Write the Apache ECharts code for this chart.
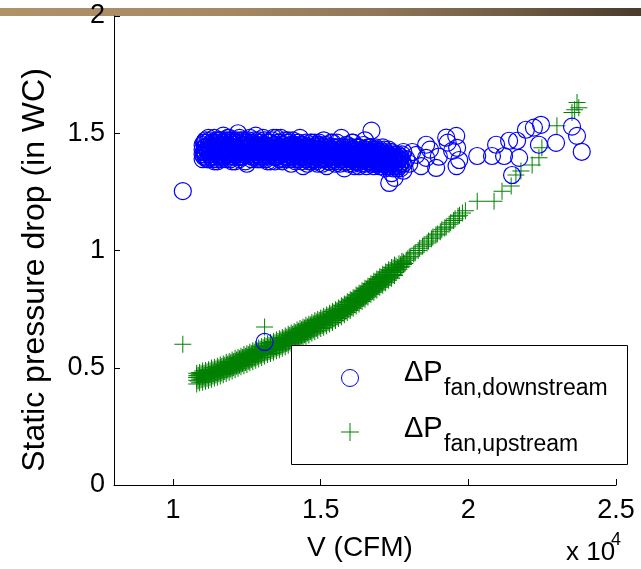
<!DOCTYPE html>
<html>
<head>
<meta charset="utf-8">
<script src="https://cdn.jsdelivr.net/npm/echarts@6/dist/echarts.min.js"></script>
<style>
html,body{margin:0;padding:0;background:#fff;}
#chart{width:641px;height:569px;}
</style>
</head>
<body>
<div id="chart"></div>
<script>
// Axis tick values (x in units of 10^4 CFM)
const xTicks = [1, 1.5, 2, 2.5];
const yTicks = [0, 0.5, 1, 1.5, 2];

// ΔP fan, downstream — dense cluster read column by column: [V, [ΔP values]]
const downstreamCols = [
  [1.10,[1.43,1.45,1.41,1.39]],[1.11,[1.44,1.47,1.42,1.40]],[1.12,[1.42,1.39,1.45,1.48]],
  [1.13,[1.43,1.40,1.46,1.44]],[1.14,[1.41,1.48,1.44,1.38]],[1.15,[1.43,1.38,1.45,1.47]],
  [1.16,[1.42,1.47,1.40,1.44]],[1.17,[1.44,1.41,1.49,1.46]],[1.18,[1.43,1.46,1.39,1.41]],
  [1.19,[1.42,1.45,1.48,1.40]],[1.20,[1.41,1.47,1.44,1.38]],[1.21,[1.43,1.38,1.46,1.45]],
  [1.22,[1.46,1.42,1.50,1.40]],[1.23,[1.44,1.40,1.47,1.42]],[1.24,[1.43,1.47,1.41,1.45]],
  [1.25,[1.42,1.45,1.37,1.44]],[1.26,[1.44,1.41,1.48,1.46]],[1.27,[1.46,1.43,1.40,1.42]],
  [1.28,[1.40,1.49,1.44,1.43]],[1.29,[1.44,1.42,1.47,1.39]],[1.30,[1.45,1.39,1.42,1.43]],
  [1.31,[1.43,1.47,1.41,1.45]],[1.32,[1.41,1.44,1.38,1.46]],[1.33,[1.46,1.38,1.43,1.42]],
  [1.34,[1.42,1.45,1.40,1.48]],[1.35,[1.40,1.48,1.44,1.42]],[1.36,[1.43,1.41,1.46,1.39]],
  [1.37,[1.45,1.38,1.42,1.43]],[1.38,[1.42,1.44,1.47,1.40]],[1.39,[1.40,1.47,1.43,1.41]],
  [1.40,[1.43,1.37,1.45,1.41]],[1.41,[1.41,1.45,1.39,1.43]],[1.42,[1.42,1.39,1.46,1.44]],
  [1.43,[1.44,1.48,1.41,1.40]],[1.44,[1.41,1.36,1.43,1.45]],[1.45,[1.43,1.46,1.39,1.42]],
  [1.46,[1.40,1.42,1.44,1.38]],[1.47,[1.44,1.38,1.41,1.46]],[1.48,[1.41,1.46,1.43,1.39]],
  [1.49,[1.43,1.37,1.40,1.45]],[1.50,[1.42,1.45,1.39,1.41]],[1.51,[1.40,1.47,1.43,1.42]],
  [1.52,[1.43,1.36,1.41,1.45]],[1.53,[1.41,1.44,1.38,1.42]],[1.54,[1.39,1.46,1.42,1.40]],
  [1.55,[1.42,1.37,1.44,1.41]],[1.56,[1.44,1.40,1.42,1.38]],[1.57,[1.43,1.48,1.40,1.41]],
  [1.58,[1.41,1.35,1.43,1.39]],[1.59,[1.42,1.45,1.38,1.40]],[1.60,[1.39,1.43,1.41,1.44]],
  [1.61,[1.41,1.46,1.37,1.42]],[1.62,[1.38,1.42,1.40,1.44]],[1.63,[1.44,1.36,1.41,1.39]],
  [1.64,[1.40,1.43,1.38,1.42]],[1.65,[1.41,1.47,1.39,1.37]],[1.66,[1.39,1.42,1.40,1.44]],
  [1.67,[1.44,1.37,1.41,1.39]],[1.68,[1.40,1.43,1.36,1.42]],[1.69,[1.38,1.41,1.43,1.39]],
  [1.70,[1.42,1.36,1.40,1.38]],[1.71,[1.39,1.44,1.37,1.41]],[1.72,[1.40,1.35,1.42,1.38]],
  [1.73,[1.41,1.38,1.36,1.43]],[1.74,[1.42,1.33,1.39,1.37]],[1.75,[1.39,1.36,1.41]],
  [1.76,[1.41,1.38,1.35]],[1.77,[1.35,1.40,1.37]],[1.78,[1.37,1.42,1.34]]
];
// ΔP fan, downstream — further readings between the columns above
const downstreamCols2 = [
  [1.105,[1.42,1.46,1.40]],[1.115,[1.43,1.39,1.46]],[1.125,[1.44,1.41,1.47]],[1.135,[1.42,1.45,1.39]],
  [1.145,[1.43,1.46,1.40]],[1.155,[1.41,1.44,1.47]],[1.165,[1.43,1.39,1.45]],[1.175,[1.42,1.47,1.40]],
  [1.185,[1.44,1.41,1.48]],[1.195,[1.43,1.39,1.46]],[1.205,[1.42,1.45,1.40]],[1.215,[1.44,1.41,1.47]],
  [1.225,[1.43,1.48,1.39]],[1.235,[1.42,1.45,1.40]],[1.245,[1.44,1.38,1.46]],[1.255,[1.43,1.41,1.47]],
  [1.265,[1.42,1.45,1.39]],[1.275,[1.44,1.47,1.41]],[1.285,[1.42,1.39,1.45]],[1.295,[1.43,1.46,1.40]],
  [1.305,[1.41,1.44,1.48]],[1.315,[1.43,1.39,1.45]],[1.325,[1.42,1.46,1.40]],[1.335,[1.44,1.41,1.47]],
  [1.345,[1.43,1.38,1.45]],[1.355,[1.42,1.46,1.40]],[1.365,[1.44,1.41,1.48]],[1.375,[1.43,1.39,1.45]],
  [1.385,[1.41,1.46,1.43]],[1.395,[1.42,1.39,1.45]],[1.405,[1.44,1.40,1.47]],[1.415,[1.42,1.38,1.45]],
  [1.425,[1.43,1.40,1.46]],[1.435,[1.42,1.45,1.38]],[1.445,[1.44,1.40,1.42]],[1.455,[1.41,1.44,1.37]],
  [1.465,[1.43,1.39,1.46]],[1.475,[1.42,1.40,1.45]],[1.485,[1.40,1.44,1.38]],[1.495,[1.42,1.46,1.39]],
  [1.505,[1.41,1.43,1.37]],[1.515,[1.42,1.39,1.45]],[1.525,[1.40,1.44,1.38]],[1.535,[1.43,1.40,1.46]],
  [1.545,[1.41,1.38,1.44]],[1.555,[1.40,1.43,1.46]],[1.565,[1.42,1.39,1.37]],[1.575,[1.40,1.44,1.42]],
  [1.585,[1.41,1.38,1.45]],[1.595,[1.43,1.40,1.37]],[1.605,[1.40,1.42,1.46]],[1.615,[1.43,1.39,1.36]],
  [1.625,[1.41,1.44,1.38]],[1.635,[1.40,1.42,1.37]],[1.645,[1.42,1.39,1.45]],[1.655,[1.40,1.43,1.36]],
  [1.665,[1.41,1.38,1.44]],[1.675,[1.39,1.42,1.37]],[1.685,[1.41,1.38,1.44]],[1.695,[1.40,1.37,1.42]],
  [1.705,[1.39,1.41,1.36]],[1.715,[1.40,1.37,1.43]],[1.725,[1.39,1.41,1.36]],[1.735,[1.40,1.37,1.42]],
  [1.745,[1.38,1.40,1.35]],[1.755,[1.40,1.37]],[1.765,[1.39,1.36]],[1.775,[1.38,1.41]]
];
// ΔP fan, downstream — third pass of readings in the core of the cluster
const downstreamCols3 = [
  [1.1075,[1.41,1.44,1.46,1.42]],[1.1275,[1.43,1.40,1.45,1.42]],[1.1475,[1.44,1.42,1.39,1.46]],
  [1.1675,[1.42,1.45,1.43,1.40]],[1.1875,[1.41,1.44,1.47,1.43]],[1.2075,[1.43,1.41,1.46,1.44]],
  [1.2275,[1.42,1.44,1.40,1.45]],[1.2475,[1.44,1.42,1.46,1.41]],[1.2675,[1.43,1.40,1.45,1.42]],
  [1.2875,[1.41,1.44,1.46,1.43]],[1.3075,[1.42,1.45,1.40,1.44]],[1.3275,[1.44,1.41,1.43,1.46]],
  [1.3475,[1.43,1.40,1.45,1.41]],[1.3675,[1.42,1.44,1.39,1.45]],[1.3875,[1.43,1.41,1.46,1.42]],
  [1.4075,[1.42,1.44,1.40,1.43]],[1.4275,[1.41,1.43,1.45,1.39]],[1.4475,[1.43,1.40,1.42,1.44]],
  [1.4675,[1.42,1.44,1.39,1.41]],[1.4875,[1.41,1.43,1.40,1.45]],[1.5075,[1.42,1.39,1.44,1.41]],
  [1.5275,[1.40,1.43,1.41,1.38]],[1.5475,[1.42,1.40,1.44,1.39]],[1.5675,[1.41,1.43,1.39,1.40]],
  [1.5875,[1.40,1.42,1.38,1.44]],[1.6075,[1.41,1.39,1.43,1.40]],[1.6275,[1.40,1.42,1.38,1.41]],
  [1.6475,[1.39,1.41,1.43,1.40]],[1.6675,[1.40,1.38,1.42,1.41]],[1.6875,[1.39,1.41,1.37,1.40]],
  [1.7075,[1.40,1.38,1.42,1.39]],[1.7275,[1.39,1.41,1.37,1.40]],[1.7475,[1.38,1.40,1.36,1.39]],
  [1.7675,[1.39,1.37,1.40]]
];
// ΔP fan, downstream — sparse / isolated points [V, ΔP]
const downstreamSparse = [
  [1.033,1.253],[1.31,0.61],[1.672,1.511],[1.732,1.288],[1.75,1.31],
  [1.79,1.39],[1.80,1.37],[1.81,1.42],[1.824,1.408],[1.84,1.36],[1.857,1.451],[1.857,1.395],
  [1.87,1.43],[1.891,1.352],[1.90,1.40],[1.925,1.481],[1.93,1.46],[1.945,1.425],[1.959,1.489],
  [1.96,1.36],[1.962,1.438],[1.969,1.386],[2.03,1.403],[2.08,1.403],[2.094,1.451],[2.121,1.403],
  [2.138,1.468],[2.148,1.322],[2.165,1.468],[2.172,1.395],[2.195,1.515],[2.222,1.524],
  [2.239,1.451],[2.246,1.536],[2.297,1.459],[2.351,1.528],[2.368,1.489],[2.384,1.421]
];

// ΔP fan, upstream — dense band read column by column: [V, [ΔP values]]
const upstreamCols = [
  [1.08,[.447,.458,.466]],[1.09,[.452,.461,.47]],[1.10,[.455,.466,.473]],[1.11,[.457,.468,.478]],
  [1.12,[.462,.474,.481]],[1.13,[.466,.477,.487]],[1.14,[.47,.483,.49]],[1.15,[.476,.486,.495]],
  [1.16,[.479,.492,.499]],[1.17,[.485,.496,.505]],[1.18,[.49,.502,.51]],[1.19,[.496,.507,.515]],
  [1.20,[.5,.513,.521]],[1.21,[.507,.518,.527]],[1.22,[.511,.524,.532]],[1.23,[.518,.529,.538]],
  [1.24,[.522,.535,.544]],[1.25,[.529,.54,.549]],[1.26,[.533,.546,.555]],[1.27,[.54,.552,.561]],
  [1.28,[.545,.558,.567]],[1.29,[.552,.564,.572]],[1.30,[.557,.57,.578]],[1.31,[.564,.576,.584]],
  [1.32,[.569,.582,.59]],[1.33,[.576,.587,.595]],[1.34,[.58,.592,.601]],[1.35,[.586,.598,.606]],
  [1.36,[.591,.603,.612]],[1.37,[.597,.609,.618]],[1.38,[.603,.615,.624]],[1.39,[.609,.622,.63]],
  [1.40,[.616,.628,.636]],[1.41,[.621,.634,.643]],[1.42,[.628,.64,.649]],[1.43,[.634,.647,.655]],
  [1.44,[.641,.653,.662]],[1.45,[.647,.66,.668]],[1.46,[.654,.666,.675]],[1.47,[.66,.673,.681]],
  [1.48,[.667,.679,.688]],[1.49,[.673,.686,.694]],[1.50,[.68,.692,.701]],[1.51,[.686,.699,.707]],
  [1.52,[.693,.705,.714]],[1.53,[.699,.712,.721]],[1.54,[.707,.719,.728]],[1.55,[.714,.727,.736]],
  [1.56,[.722,.735,.744]],[1.57,[.73,.743,.752]],[1.58,[.739,.752,.761]],[1.59,[.748,.761,.77]],
  [1.60,[.757,.77,.779]],[1.61,[.766,.779,.788]],[1.62,[.776,.789,.797]],[1.63,[.785,.798,.807]],
  [1.64,[.795,.808,.817]],[1.65,[.805,.818,.827]],[1.66,[.815,.828,.837]],[1.67,[.825,.838,.847]],
  [1.68,[.835,.848,.857]],[1.69,[.845,.858,.867]],[1.70,[.855,.868,.877]],[1.71,[.865,.878,.887]],
  [1.72,[.875,.888,.897]],[1.73,[.886,.898,.906]],[1.74,[.896,.908,.916]],[1.75,[.906,.918,.925]],
  [1.76,[.917,.928]],[1.77,[.929,.939]],[1.78,[.94,.95]]
];
// ΔP fan, upstream — further readings between the columns above
const upstreamCols2 = [
  [1.085,[.444,.468]],[1.095,[.449,.474]],[1.105,[.452,.477]],[1.115,[.455,.482]],[1.125,[.46,.486]],
  [1.135,[.465,.49]],[1.145,[.469,.495]],[1.155,[.474,.5]],[1.165,[.478,.505]],[1.175,[.484,.511]],
  [1.185,[.49,.516]],[1.195,[.495,.521]],[1.205,[.5,.527]],[1.215,[.506,.533]],[1.225,[.511,.538]],
  [1.235,[.517,.544]],[1.245,[.522,.549]],[1.255,[.528,.555]],[1.265,[.534,.561]],[1.275,[.54,.567]],
  [1.285,[.546,.573]],[1.295,[.552,.579]],[1.305,[.558,.585]],[1.315,[.564,.591]],[1.325,[.569,.596]],
  [1.335,[.574,.601]],[1.345,[.58,.607]],[1.355,[.585,.612]],[1.365,[.591,.618]],[1.375,[.597,.624]],
  [1.385,[.603,.63]],[1.395,[.61,.637]],[1.405,[.616,.643]],[1.415,[.622,.649]],[1.425,[.628,.656]],
  [1.435,[.635,.662]],[1.445,[.641,.669]],[1.455,[.648,.675]],[1.465,[.654,.682]],[1.475,[.661,.688]],
  [1.485,[.667,.695]],[1.495,[.674,.701]],[1.505,[.68,.708]],[1.515,[.687,.714]],[1.525,[.693,.721]],
  [1.535,[.7,.728]],[1.545,[.708,.735]],[1.555,[.716,.743]],[1.565,[.724,.751]],[1.575,[.732,.76]],
  [1.585,[.741,.769]],[1.595,[.75,.778]],[1.605,[.759,.787]],[1.615,[.769,.796]],[1.625,[.778,.806]],
  [1.635,[.788,.815]],[1.645,[.798,.825]],[1.655,[.808,.835]],[1.665,[.818,.845]],[1.675,[.828,.855]],
  [1.685,[.838,.865]],[1.695,[.848,.875]],[1.705,[.858,.885]],[1.715,[.868,.895]],[1.725,[.878,.905]],
  [1.735,[.888,.915]],[1.745,[.898,.925]],[1.755,[.908,.934]],[1.765,[.92,.944]],[1.775,[.931,.954]]
];
// ΔP fan, upstream — readings at the lower and upper edges of the band
const upstreamEdges = [
  [1.08,[.431,.477]],[1.09,[.436,.48]],[1.10,[.438,.486]],[1.11,[.442,.488]],[1.12,[.447,.492]],
  [1.13,[.451,.499]],[1.14,[.456,.502]],[1.15,[.459,.506]],[1.16,[.465,.512]],[1.17,[.47,.516]],
  [1.18,[.476,.523]],[1.19,[.481,.527]],[1.20,[.486,.533]],[1.21,[.492,.54]],[1.22,[.498,.544]],
  [1.23,[.504,.549]],[1.24,[.509,.556]],[1.25,[.514,.56]],[1.26,[.521,.566]],[1.27,[.526,.573]],
  [1.28,[.532,.578]],[1.29,[.537,.584]],[1.30,[.544,.591]],[1.31,[.55,.596]],[1.32,[.557,.602]],
  [1.33,[.561,.608]],[1.34,[.566,.612]],[1.35,[.573,.618]],[1.36,[.577,.624]],[1.37,[.583,.629]],
  [1.38,[.59,.635]],[1.39,[.596,.643]],[1.40,[.602,.648]],[1.41,[.609,.654]],[1.42,[.614,.661]],
  [1.43,[.621,.667]],[1.44,[.628,.673]],[1.45,[.634,.681]],[1.46,[.64,.686]],[1.47,[.648,.693]],
  [1.48,[.653,.7]],[1.49,[.66,.706]],[1.50,[.667,.712]],[1.51,[.673,.72]],[1.52,[.679,.725]],
  [1.53,[.687,.732]],[1.54,[.693,.74]],[1.55,[.701,.747]],[1.56,[.71,.755]],[1.57,[.717,.764]],
  [1.58,[.726,.772]],[1.59,[.736,.781]],[1.60,[.744,.79]],[1.61,[.754,.799]],[1.62,[.763,.81]],
  [1.63,[.772,.818]],[1.64,[.783,.828]],[1.65,[.792,.839]],[1.66,[.802,.848]],[1.67,[.813,.858]],
  [1.68,[.822,.869]],[1.69,[.832,.878]],[1.70,[.843,.888]],[1.71,[.852,.899]],[1.72,[.862,.908]],
  [1.73,[.873,.918]],[1.74,[.882,.928]],[1.75,[.893,.938]]
];
// ΔP fan, upstream — sparse / isolated points [V, ΔP]
const upstreamSparse = [
  [1.033,0.60],[1.31,0.674],
  [1.785,.945],[1.79,.958],[1.795,.965],[1.80,.972],[1.805,.975],[1.815,.985],[1.82,.99],[1.83,1.0],
  [1.835,1.01],[1.845,1.018],[1.85,1.025],[1.86,1.032],[1.865,1.04],[1.875,1.05],[1.88,1.058],
  [1.89,1.066],[1.895,1.07],[1.905,1.08],[1.91,1.088],[1.92,1.096],[1.925,1.1],[1.935,1.112],
  [1.94,1.118],[1.95,1.128],[1.955,1.135],[1.965,1.146],[1.97,1.15],[1.98,1.16],[1.99,1.17],
  [2.03,1.21],[2.087,1.21],[2.114,1.253],[2.145,1.275],[2.161,1.322],[2.178,1.339],[2.216,1.365],
  [2.239,1.395],[2.249,1.438],[2.30,1.532],[2.36,1.60],[2.351,1.588],[2.374,1.609],[2.368,1.631]
];

function flattenCols(cols){
  const out = [];
  cols.forEach(function(c){ c[1].forEach(function(y){ out.push([c[0], y]); }); });
  return out;
}
const downstreamData = flattenCols(downstreamCols).concat(
  flattenCols(downstreamCols2), flattenCols(downstreamCols3), downstreamSparse);
const upstreamData = flattenCols(upstreamCols).concat(
  flattenCols(upstreamCols2), flattenCols(upstreamEdges), upstreamSparse);

const FONT = '"Liberation Sans", Arial, Helvetica, sans-serif';
const PLUS = 'path://M0,8H17V9H0Z M8,0H9V17H8Z';

const chart = echarts.init(document.getElementById('chart'), null, {renderer: 'canvas'});
chart.setOption({
  animation: false,
  backgroundColor: '#ffffff',
  grid: {left: 114, right: 25, top: 16, bottom: 84, containLabel: false, outerBoundsMode: 'none'},
  xAxis: {
    type: 'value', min: 0.8, max: 2.5,
    axisLine: {show: true, onZero: false, lineStyle: {color: '#000', width: 1}},
    axisTick: {show: true, inside: true, length: 6, customValues: xTicks, lineStyle: {color: '#000'}},
    axisLabel: {customValues: xTicks, color: '#000', fontSize: 27, fontFamily: FONT, margin: 12,
      formatter: function(v){ return String(v); }},
    splitLine: {show: false}
  },
  yAxis: {
    type: 'value', min: 0, max: 2, interval: 0.5,
    axisLine: {show: true, onZero: false, lineStyle: {color: '#000', width: 1}},
    axisTick: {show: true, inside: true, length: 6, customValues: yTicks, lineStyle: {color: '#000'}},
    axisLabel: {customValues: yTicks, color: '#000', fontSize: 27, fontFamily: FONT, margin: 9,
      formatter: function(v){ return String(v); }},
    splitLine: {show: false}
  },
  series: [
    {
      name: 'downstream', type: 'scatter', data: downstreamData,
      symbol: 'circle', symbolSize: 17,
      itemStyle: {color: 'rgba(0,0,0,0)', borderColor: '#0000ff', borderWidth: 1.2, opacity: 1},
      emphasis: {disabled: true}, z: 3
    },
    {
      name: 'upstream', type: 'scatter', data: upstreamData,
      symbol: PLUS, symbolSize: 17,
      itemStyle: {color: '#008000', opacity: 1},
      emphasis: {disabled: true}, z: 2
    }
  ],
  graphic: [
    {type: 'rect', z: -5, shape: {x: 0, y: 8, width: 641, height: 8},
      style: {fill: new echarts.graphic.LinearGradient(0, 0, 1, 0, [
        {offset: 0, color: '#b09269'}, {offset: 0.35, color: '#a48962'},
        {offset: 0.6, color: '#8e7556'}, {offset: 0.8, color: '#6f5c43'},
        {offset: 1, color: '#483b2b'}])}},
    {type: 'text', x: 35, y: 270, rotation: Math.PI / 2,
      style: {text: 'Static pressure drop (in WC)', font: '32px ' + FONT, fill: '#000',
        align: 'center', verticalAlign: 'middle'}},
    {type: 'text', x: 360, y: 548,
      style: {text: 'V (CFM)', font: '28px ' + FONT, fill: '#000', align: 'center', verticalAlign: 'middle'}},
    {type: 'text', x: 566, y: 553,
      style: {text: 'x 10', font: '26px ' + FONT, fill: '#000', align: 'left', verticalAlign: 'middle'}},
    {type: 'text', x: 611, y: 540,
      style: {text: '4', font: '18px ' + FONT, fill: '#000', align: 'left', verticalAlign: 'middle'}},
    // legend box
    {type: 'rect', z: 100, shape: {x: 291.5, y: 345.5, width: 336, height: 119},
      style: {fill: '#fff', stroke: '#000', lineWidth: 1}},
    {type: 'circle', z: 101, shape: {cx: 350, cy: 378, r: 8.5},
      style: {fill: 'none', stroke: '#0000ff', lineWidth: 1}},
    {type: 'rect', z: 101, shape: {x: 341, y: 431.5, width: 18, height: 1}, style: {fill: '#008000'}},
    {type: 'rect', z: 101, shape: {x: 349.5, y: 423, width: 1, height: 18}, style: {fill: '#008000'}},
    {type: 'text', z: 101, x: 404, y: 373,
      style: {text: 'ΔP', font: '29px ' + FONT, fill: '#000', align: 'left', verticalAlign: 'middle'}},
    {type: 'text', z: 101, x: 444, y: 389,
      style: {text: 'fan,downstream', font: '23px ' + FONT, fill: '#000', align: 'left', verticalAlign: 'middle'}},
    {type: 'text', z: 101, x: 404, y: 429,
      style: {text: 'ΔP', font: '29px ' + FONT, fill: '#000', align: 'left', verticalAlign: 'middle'}},
    {type: 'text', z: 101, x: 444, y: 445,
      style: {text: 'fan,upstream', font: '23px ' + FONT, fill: '#000', align: 'left', verticalAlign: 'middle'}}
  ]
});
</script>
</body>
</html>
